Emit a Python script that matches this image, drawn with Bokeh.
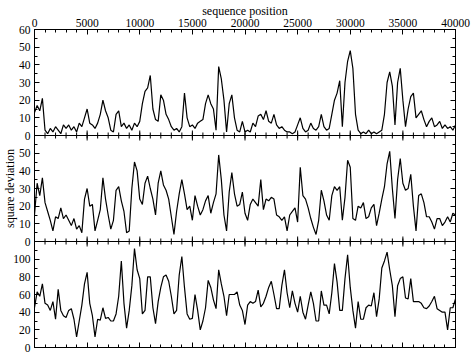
import math
from bokeh.plotting import figure
from bokeh.models import (Range1d, LinearAxis, FixedTicker, Span,
                          CustomJSTickFormatter)
from bokeh.embed import file_html
from bokeh.resources import INLINE

# sequence positions (every 250 residues)
seq_pos = list(range(0, 40001, 250))

# panel 1 square deviation
dev_a = [
    13, 17, 14, 21, 3, 1, 4, 2,
    5, 3, 1, 6, 4, 6, 3, 5,
    2, 7, 5, 10, 15, 7, 6, 4,
    7, 12, 20, 14, 10, 3, 2, 12,
    14, 5, 7, 4, 6, 3, 7, 5,
    8, 18, 25, 27, 34, 15, 9, 8,
    23, 20, 12, 9, 5, 3, 4, 2,
    5, 24, 10, 5, 6, 4, 7, 8,
    9, 18, 23, 18, 15, 3, 39, 32,
    20, 2, 18, 23, 10, 3, 2, 8,
    2, 3, 2, 7, 5, 11, 12, 9,
    14, 8, 7, 12, 6, 4, 5, 3,
    2, 2, 1, 2, 6, 10, 4, 2,
    3, 7, 4, 3, 5, 12, 5, 3,
    4, 12, 20, 24, 31, 5, 30, 42,
    48, 38, 12, 3, 1, 2, 1, 3,
    1, 2, 1, 2, 3, 12, 30, 36,
    28, 6, 30, 38, 20, 5, 15, 22,
    24, 10, 12, 14, 9, 5, 8, 10,
    5, 6, 8, 4, 6, 4, 5, 3,
    6,
]

# panel 2 square deviation
dev_b = [
    15, 33, 26, 36, 22, 17, 12, 6,
    14, 13, 19, 13, 15, 12, 9, 13,
    7, 9, 5, 24, 30, 20, 21, 6,
    12, 18, 36, 24, 15, 7, 12, 29,
    31, 23, 17, 5, 6, 30, 45, 40,
    24, 21, 33, 37, 30, 24, 15, 33,
    40, 32, 29, 24, 14, 4, 17, 27,
    35, 27, 18, 20, 12, 26, 20, 15,
    18, 23, 26, 16, 22, 27, 49, 35,
    15, 6, 28, 39, 27, 20, 21, 28,
    16, 12, 21, 24, 22, 20, 35, 18,
    24, 23, 25, 24, 15, 14, 12, 14,
    6, 15, 17, 19, 11, 42, 26, 24,
    19, 13, 8, 4, 12, 29, 23, 15,
    12, 26, 31, 29, 31, 12, 25, 46,
    42, 13, 12, 20, 19, 22, 13, 14,
    19, 21, 9, 16, 24, 31, 44, 51,
    30, 13, 35, 47, 33, 29, 30, 38,
    20, 6, 26, 27, 22, 14, 14, 11,
    7, 13, 13, 9, 11, 14, 11, 16,
    15,
]

# panel 3 square deviation
dev_c = [
    45, 63, 58, 72, 50, 48, 42, 52,
    32, 66, 42, 36, 34, 42, 44, 32,
    12, 30, 48, 72, 85, 50, 36, 12,
    32, 31, 45, 33, 34, 30, 30, 38,
    58, 98, 50, 22, 42, 70, 112, 88,
    78, 38, 42, 80, 80, 45, 27, 52,
    68, 80, 82, 75, 58, 38, 42, 82,
    103, 68, 38, 32, 33, 60, 42, 20,
    30, 45, 76, 68, 54, 44, 88, 72,
    58, 36, 60, 60, 60, 63, 48, 42,
    26, 48, 52, 50, 52, 65, 46, 50,
    58, 68, 75, 60, 44, 44, 70, 88,
    62, 45, 64, 50, 40, 58, 40, 32,
    48, 63, 50, 30, 30, 64, 48, 48,
    38, 62, 95, 74, 42, 42, 78, 105,
    68, 42, 22, 52, 32, 32, 45, 48,
    47, 62, 35, 55, 90, 98, 108, 88,
    70, 35, 70, 78, 80, 56, 55, 78,
    52, 52, 52, 50, 45, 44, 47, 52,
    58, 44, 42, 40, 40, 20, 45, 45,
    55,
]

x_major = list(range(0, 40001, 5000))
x_minor = list(range(0, 40001, 1000))

# tick values shown for each panel
ya_major = [0, 10, 20, 30, 40, 50, 60]
ya_minor = [5, 15, 25, 35, 45, 55]
yb_major = [0, 10, 20, 30, 40, 50]
yb_minor = [5, 15, 25, 35, 45, 55]
yc_major = [0, 20, 40, 60, 80, 100]
yc_minor = [10, 30, 50, 70, 90, 110]

# value ranges of the three panels (top to bottom)
a_max, b_max, c_max = 60, 60, 120

FONT = "Liberation Serif"

# the bottom panel uses the main y range; the other two panels are
# stacked above it with their own ranges, at the same pixel height each
c_span = c_max
k_b = c_span / b_max          # main units per panel-2 unit
k_a = c_span / a_max
b_off = c_span                 # main position of panel-2 zero
a_off = 2 * c_span             # main position of panel-1 zero
main_top = 3 * c_span

p = figure(width=471, height=353,
           x_range=Range1d(0, 40000), y_range=Range1d(0, main_top),
           output_backend="svg", toolbar_location=None,
           x_axis_location=None, y_axis_location=None,
           min_border_left=32, min_border_right=16,
           min_border_top=0, min_border_bottom=6)
p.extra_y_ranges = {
    "a": Range1d(-a_off / k_a, (main_top - a_off) / k_a),
    "b": Range1d(-b_off / k_b, (main_top - b_off) / k_b),
}
p.grid.visible = False
p.outline_line_color = "black"
p.outline_line_alpha = 1
p.background_fill_color = "white"
p.border_fill_color = "white"

# left/right ticks in main-range positions with per-panel labels
y_pos, y_minor_pos, y_labels = [], [], {}
for vals, mins, off, k in ((yc_major, yc_minor, 0, 1),
                           (yb_major, yb_minor, b_off, k_b),
                           (ya_major, ya_minor, a_off, k_a)):
    for v in vals:
        pos = int(round(off + k * v))
        if pos not in y_pos:
            y_pos.append(pos)
        y_labels[pos] = str(v)
    for v in mins:
        y_minor_pos.append(int(round(off + k * v)))


def style(ax, labels):
    ax.major_tick_in = 5
    ax.major_tick_out = 0
    ax.minor_tick_in = 3
    ax.minor_tick_out = 0
    ax.major_tick_line_color = "black"
    ax.minor_tick_line_color = "black"
    ax.axis_line_color = "black"
    ax.major_label_text_font = FONT
    ax.major_label_text_color = "black"
    ax.major_label_text_font_size = "11.5px"
    ax.major_label_standoff = 3
    if not labels:
        ax.formatter = CustomJSTickFormatter(code="return ''")
        ax.major_label_standoff = 0


left = LinearAxis(ticker=FixedTicker(ticks=y_pos, minor_ticks=y_minor_pos))
style(left, True)
left.major_label_standoff = 4
left.major_label_overrides = y_labels
left.axis_label = "square deviation"
left.axis_label_text_font = FONT
left.axis_label_text_font_size = "12px"
left.axis_label_text_font_style = "normal"
left.axis_label_text_color = "black"
left.axis_label_standoff = -7
p.add_layout(left, "left")

right = LinearAxis(ticker=FixedTicker(ticks=y_pos, minor_ticks=y_minor_pos))
style(right, False)
p.add_layout(right, "right")

top = LinearAxis(ticker=FixedTicker(ticks=x_major, minor_ticks=x_minor))
style(top, True)
top.axis_label = "sequence position"
top.axis_label_text_font = FONT
top.axis_label_text_font_size = "12px"
top.axis_label_text_font_style = "normal"
top.axis_label_text_color = "black"
top.axis_label_standoff = -2
p.add_layout(top, "above")

bottom = LinearAxis(ticker=FixedTicker(ticks=x_major, minor_ticks=x_minor))
style(bottom, False)
p.add_layout(bottom, "below")

# panel boundaries with inward ticks on both sides
for loc in (b_off, a_off):
    p.add_layout(Span(location=loc, dimension="width", line_color="black",
                      line_width=1))
    for ticks, ln in ((x_major, 5), (x_minor, 3)):
        for ang in (math.pi / 2, -math.pi / 2):
            p.ray(x=ticks, y=[loc] * len(ticks), length=ln,
                  length_units="screen", angle=ang, line_color="black",
                  line_width=1)

p.line(seq_pos, dev_a, y_range_name="a", line_color="black", line_width=1.2)
p.line(seq_pos, dev_b, y_range_name="b", line_color="black", line_width=1.2)
p.line(seq_pos, dev_c, line_color="black", line_width=1.2)

open("out.html", "w").write(file_html(p, INLINE))
